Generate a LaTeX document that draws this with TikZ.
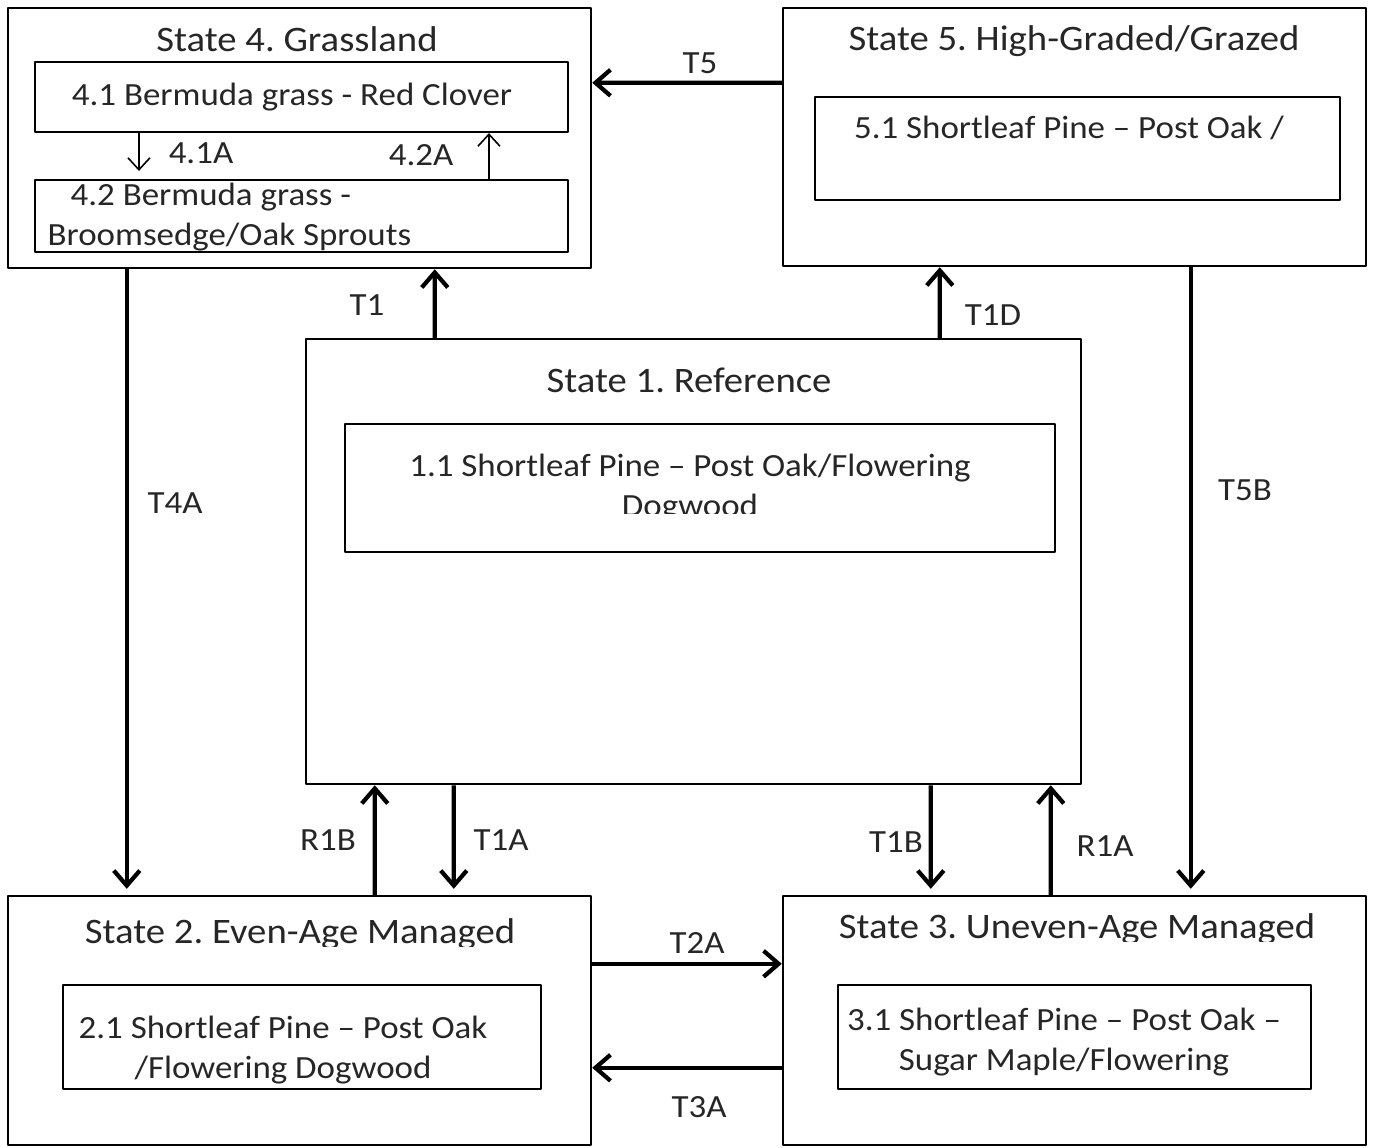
\documentclass[tikz,border=0pt]{standalone}
\usepackage{fontspec}
\setmainfont{Carlito}[FakeStretch=1.08]
\usetikzlibrary{arrows.meta}
\frenchspacing
\begin{document}
\begin{tikzpicture}[x=0.1mm,y=-0.1mm,>={Straight Barb[length=1.5mm,width=2.6mm]},line join=round,
	state/.style={draw,line width=0.7pt,inner sep=0pt},
	phase/.style={draw,line width=0.6pt,inner sep=0pt},
	sttl/.style={font=\fontsize{10.2}{13}\selectfont,text=black!85,anchor=base},
	ptxt/.style={font=\fontsize{9.2}{11.4}\selectfont,text=black!85,inner sep=0pt},
	lbl/.style={font=\fontsize{9.2}{12}\selectfont,text=black!85,anchor=base},
	tr/.style={->,line width=1.2pt},
	ph/.style={->,line width=0.45pt,>={Straight Barb[length=1.2mm,width=2.2mm]}}]
	\useasboundingbox (0,0) rectangle (1374,1147);
	% states
	\node[state,minimum width=5.83cm,minimum height=2.60cm] (s4) at (299.5,138) {};
	\node[state,minimum width=5.83cm,minimum height=2.58cm] (s5) at (1074.5,137) {};
	\node[state,minimum width=7.75cm,minimum height=4.45cm] (s1) at (693.5,561.5) {};
	\node[state,minimum width=5.83cm,minimum height=2.49cm] (s2) at (299.5,1020.5) {};
	\node[state,minimum width=5.83cm,minimum height=2.49cm] (s3) at (1074.5,1020.5) {};
	% phases
	\node[phase,minimum width=5.33cm,minimum height=0.70cm] (p41) at (301.5,97) {};
	\node[phase,minimum width=5.33cm,minimum height=0.72cm] (p42) at (301.5,216) {};
	\node[phase,minimum width=5.25cm,minimum height=1.03cm] (p51) at (1077.5,148.5) {};
	\node[phase,minimum width=7.10cm,minimum height=1.28cm] (p11) at (700,488) {};
	\node[phase,minimum width=4.78cm,minimum height=1.04cm] (p21) at (302,1037) {};
	\node[phase,minimum width=4.73cm,minimum height=1.04cm] (p31) at (1074.5,1037) {};
	% titles
	\node[sttl] (t4) at (297,51) {State 4. Grassland};
	\node[sttl] (t5) at (1074,50) {State 5. High-Graded/Grazed};
	\node[sttl] (t1) at (689,392) {State 1. Reference};
	\begin{scope}
		\clip (8,896) rectangle (591,946);
		\node[sttl] (t2) at (300,943) {State 2. Even-Age Managed};
	\end{scope}
	\begin{scope}
		\clip (783,896) rectangle (1366,941);
		\node[sttl] (t3) at (1077,938) {State 3. Uneven-Age Managed};
	\end{scope}
	% phase texts
	\node[ptxt,anchor=base] (x41) at (292,105) {4.1 Bermuda grass - Red Clover};
	\node[ptxt,anchor=west,align=left] (x42) at (47,217) {\hspace{2.3mm}4.2 Bermuda grass -\\Broomsedge/Oak Sprouts};
	\node[ptxt,anchor=base] (x51) at (1069,138) {5.1 Shortleaf Pine -- Post Oak /};
	\begin{scope}
		\clip (345,424) rectangle (1055,513);
		\node[ptxt,align=center] (x11) at (690,488) {1.1 Shortleaf Pine -- Post Oak/Flowering\\Dogwood};
	\end{scope}
	\node[ptxt,align=center] (x21) at (283,1050) {2.1 Shortleaf Pine -- Post Oak\\/Flowering Dogwood};
	\node[ptxt,align=center] (x31) at (1064,1042) {3.1 Shortleaf Pine -- Post Oak --\\Sugar Maple/Flowering};
	% transitions
	\draw[ph,shorten >=0.8mm] ([xshift=1.05cm]p41.south west) -- ([xshift=1.05cm]p42.north west);
	\draw[ph] ([xshift=4.55cm]p42.north west) -- ([xshift=4.55cm]p41.south west);
	\draw[tr] ([yshift=-0.76cm]s5.north west) -- ([yshift=-0.76cm]s4.north east);
	\draw[tr] ([xshift=1.30cm]s1.north west) -- ([xshift=4.28cm]s4.south west);
	\draw[tr] ([xshift=6.35cm]s1.north west) -- ([xshift=1.58cm]s5.south west);
	\draw[tr,shorten >=0.6mm] ([xshift=1.20cm]s4.south west) -- ([xshift=1.20cm]s2.north west);
	\draw[tr,shorten >=0.6mm] ([xshift=4.09cm]s5.south west) -- ([xshift=4.09cm]s3.north west);
	\draw[tr] ([xshift=3.68cm]s2.north west) -- ([xshift=0.70cm]s1.south west);
	\draw[tr,shorten >=0.6mm] ([xshift=1.49cm]s1.south west) -- ([xshift=4.47cm]s2.north west);
	\draw[tr,shorten >=0.6mm] ([xshift=6.26cm]s1.south west) -- ([xshift=1.49cm]s3.north west);
	\draw[tr] ([xshift=2.69cm]s3.north west) -- ([xshift=7.46cm]s1.south west);
	\draw[tr] ([yshift=-0.69cm]s2.north east) -- ([yshift=-0.69cm]s3.north west);
	\draw[tr] ([yshift=-1.73cm]s3.north west) -- ([yshift=-1.73cm]s2.north east);
	% labels
	\node[lbl] (l41A) at (201,163) {4.1A};
	\node[lbl] (l42A) at (421,165) {4.2A};
	\node[lbl] (lT5) at (700,73) {T5};
	\node[lbl] (lT1) at (367,315) {T1};
	\node[lbl] (lT1D) at (993,325) {T1D};
	\node[lbl] (lT4A) at (175,513) {T4A};
	\node[lbl] (lT5B) at (1245,500) {T5B};
	\node[lbl] (lR1B) at (328,850) {R1B};
	\node[lbl] (lT1A) at (501,850) {T1A};
	\node[lbl] (lT1B) at (896,852) {T1B};
	\node[lbl] (lR1A) at (1105,856) {R1A};
	\node[lbl] (lT2A) at (697,953) {T2A};
	\node[lbl] (lT3A) at (699,1117) {T3A};
\end{tikzpicture}
\end{document}
